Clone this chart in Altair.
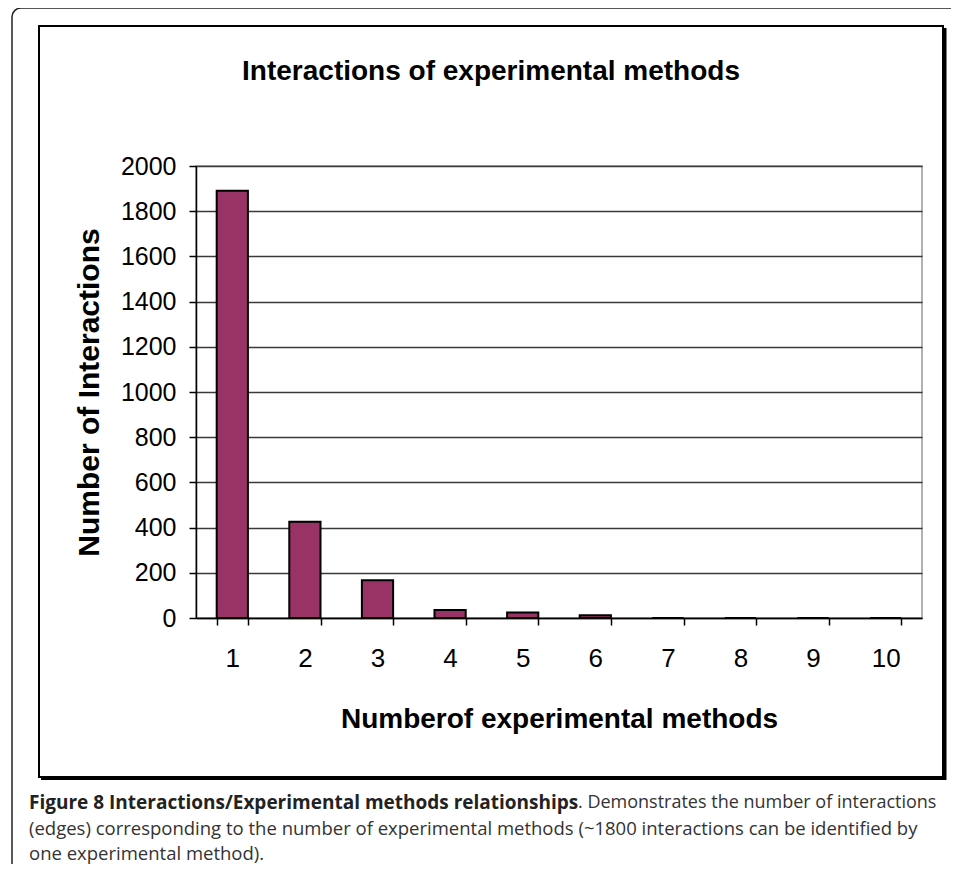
import altair as alt
import pandas as pd

methods = ["1", "2", "3", "4", "5", "6", "7", "8", "9", "10"]
interactions = [1890, 426, 167, 35, 24, 12, 0, 0, 0, 0]
y_ticks = [0, 200, 400, 600, 800, 1000, 1200, 1400, 1600, 1800, 2000]

chart_title = "Interactions of experimental methods"
x_title = "Numberof experimental methods"
y_title = "Number of Interactions"
cap_bold = "Figure 8 Interactions/Experimental methods relationships"
cap_line1 = ". Demonstrates the number of interactions"
cap_line2 = "(edges) corresponding to the number of experimental methods (~1800 interactions can be identified by"
cap_line3 = "one experimental method)."

df = pd.DataFrame({"methods": methods, "interactions": interactions})

ARIAL = "Liberation Sans, Arial, sans-serif"
CAP = "Open Sans, sans-serif"

one = pd.DataFrame({"k": [0]})

outer = alt.Chart(one).mark_rect(
    fill=None, stroke="#222222", strokeWidth=1.5, cornerRadius=9
).encode(x=alt.value(-184), x2=alt.value(790), y=alt.value(-158), y2=alt.value(730))

inner = alt.Chart(one).mark_rect(
    fill=None, stroke="#000000", strokeWidth=2
).encode(x=alt.value(-157), x2=alt.value(747), y=alt.value(-140), y2=alt.value(611))

shadow_r = alt.Chart(one).mark_rule(color="#000000", strokeWidth=3).encode(
    x=alt.value(749), y=alt.value(-138), y2=alt.value(614))
shadow_b = alt.Chart(one).mark_rule(color="#000000", strokeWidth=3).encode(
    y=alt.value(612.5), x=alt.value(-155), x2=alt.value(750))

bars = alt.Chart(df).mark_bar(
    color="#993366", stroke="#000000", strokeWidth=2
).encode(
    x=alt.X("methods:N", sort=methods,
            scale=alt.Scale(paddingInner=0.57, paddingOuter=0.285),
            axis=alt.Axis(title=x_title, labelAngle=0, tickBand="extent",
                          labelFont=ARIAL, labelFontSize=26, labelColor="#000000",
                          labelPadding=20, tickSize=7, tickColor="#000000", tickWidth=1.5,
                          domainColor="#000000", domainWidth=1.5,
                          titleFont=ARIAL, titleFontSize=28, titleFontWeight="bold",
                          titleColor="#000000", titlePadding=34, grid=False)),
    y=alt.Y("interactions:Q",
            scale=alt.Scale(domain=[0, 2000], nice=False),
            axis=alt.Axis(title=y_title, values=y_ticks, format="d",
                          labelFont=ARIAL, labelFontSize=25, labelColor="#000000",
                          labelPadding=13, tickSize=7, tickColor="#000000", tickWidth=1.5,
                          domainColor="#000000", domainWidth=1.5,
                          gridColor="#3a3a3a", gridWidth=1.5,
                          titleFont=ARIAL, titleFontSize=30, titleFontWeight="bold",
                          titleColor="#000000", titlePadding=16)),
)

title_txt = alt.Chart(one).mark_text(
    text=chart_title, font=ARIAL, fontSize=28, fontWeight="bold", color="#000000",
    align="center", baseline="middle"
).encode(x=alt.value(295), y=alt.value(-94))

cap1b = alt.Chart(one).mark_text(
    text=cap_bold, font=CAP, fontSize=19, fontWeight="bold", color="#222222",
    align="left", baseline="middle"
).encode(x=alt.value(-167), y=alt.value(637))
cap1 = alt.Chart(one).mark_text(
    text=cap_line1, font=CAP, fontSize=18, color="#333333",
    align="left", baseline="middle"
).encode(x=alt.value(382), y=alt.value(637))
cap2 = alt.Chart(one).mark_text(
    text=cap_line2, font=CAP, fontSize=18.5, color="#333333",
    align="left", baseline="middle"
).encode(x=alt.value(-167), y=alt.value(663))
cap3 = alt.Chart(one).mark_text(
    text=cap_line3, font=CAP, fontSize=18.5, color="#333333",
    align="left", baseline="middle"
).encode(x=alt.value(-167), y=alt.value(688))

chart = alt.layer(
    outer, inner, shadow_r, shadow_b, bars, title_txt, cap1b, cap1, cap2, cap3
).properties(
    width=726, height=452,
    autosize=alt.AutoSizeParams(type="none"),
    padding={"left": 188, "top": 158, "right": 29, "bottom": 246},
).configure_view(stroke="#999999", strokeWidth=1.5)

chart.save("out.html", embed_options={"renderer": "svg", "actions": False})
